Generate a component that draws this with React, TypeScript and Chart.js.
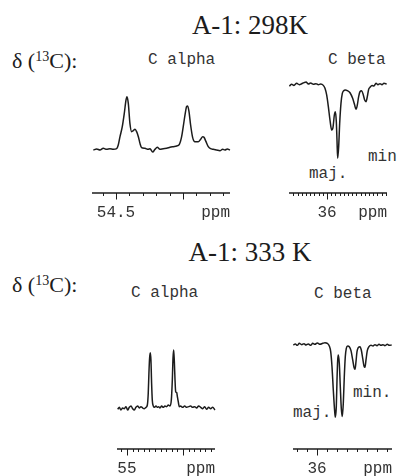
import React, { useEffect, useRef } from "react";
import { Chart, registerables } from "chart.js";

Chart.register(...registerables);

// ---------- 298 K, C alpha ----------
const ppmAlpha298 = [
  54.669, 54.644, 54.619, 54.595, 54.57, 54.545, 54.52, 54.495, 54.483, 54.47,
  54.453, 54.438, 54.425, 54.418, 54.408, 54.396, 54.383, 54.371, 54.358, 54.346,
  54.333, 54.321, 54.309, 54.284, 54.259, 54.246, 54.226, 54.209, 54.192, 54.172,
  54.147, 54.122, 54.097, 54.072, 54.047, 54.027, 54.01, 53.998, 53.983, 53.973,
  53.965, 53.955, 53.943, 53.928, 53.911, 53.886, 53.868, 53.853, 53.843, 53.828,
  53.811, 53.794, 53.774, 53.749, 53.724, 53.704, 53.687, 53.669, 53.649,
];
const intAlpha298 = [
  0, 1.9, 0, 3.1, 1.3, 2.5, 1.3, 2.5, 9.4, 25,
  43.8, 68.8, 93.8, 100, 87.5, 50, 34.4, 36.3, 38.8, 34.4,
  25, 12.5, 4.4, 3.1, 1.3, 2.5, -3.8, 1.3, 5, 1.3,
  2.5, 3.1, 5, 6.3, 7.5, 10.6, 25, 43.8, 68.8, 81.3,
  82.5, 71.9, 46.9, 23.8, 15.6, 15.6, 20, 25, 23.8, 15.6,
  6.3, 2.5, 1.3, 0, -1.3, 1.3, 0, 1.9, 0,
];
const minorAlpha298 = [54.6, 54.4, 54.3, 54.2, 54.1, 53.9, 53.8, 53.7];
const majorAlpha298 = [54.5, 54.0];
const labelAlpha298 = ["54.5", ""];

// ---------- 298 K, C beta ----------
const ppmBeta298 = [
  36.897, 36.841, 36.786, 36.722, 36.659, 36.603, 36.548, 36.5, 36.444, 36.389,
  36.325, 36.262, 36.206, 36.151, 36.087, 36.048, 36.008, 35.968, 35.929, 35.889,
  35.857, 35.825, 35.801, 35.778, 35.762, 35.746, 35.722, 35.698, 35.667, 35.635,
  35.603, 35.563, 35.516, 35.452, 35.389, 35.341, 35.31, 35.278, 35.246, 35.214,
  35.175, 35.135, 35.103, 35.071, 35.04, 35.008, 34.976, 34.929, 34.881, 34.833,
  34.786, 34.738, 34.69, 34.643, 34.579,
];
const intBeta298 = [
  -1.4, 0.9, -0.5, 2.3, 0.5, 1.8, 3.2, 4.1, 1.4, 2.7,
  0.9, 1.8, 0.5, 1.4, -0.5, -4.5, -13.6, -29.5, -47.7, -61.4,
  -57.7, -40.9, -36.4, -50, -75, -100, -84.1, -52.3, -25, -11.4,
  -7.7, -6.8, -7.7, -10.5, -18.2, -27.3, -33.2, -27.3, -15.9, -9.1,
  -7.7, -13.6, -20.5, -22.7, -15.9, -5.9, -3.2, -0.5, -1.4, 2.3,
  0.5, 1.8, 0.5, 2.3, 1.4,
];
const minorBeta298 = [
  34.6, 34.7, 34.8, 34.9, 35.0, 35.1, 35.2, 35.3, 35.4, 35.5, 35.6, 35.7, 35.8,
  35.9, 36.1, 36.2, 36.3, 36.4, 36.5, 36.6, 36.7, 36.8,
];
const majorBeta298 = [36];
const labelBeta298 = ["36"];

// ---------- 333 K, C alpha ----------
const ppmAlpha333 = [
  55.083, 55.068, 55.054, 55.039, 55.024, 55.009, 54.994, 54.979, 54.964, 54.949,
  54.934, 54.92, 54.905, 54.89, 54.875, 54.86, 54.845, 54.83, 54.818, 54.81,
  54.804, 54.798, 54.792, 54.786, 54.78, 54.774, 54.765, 54.753, 54.741, 54.729,
  54.717, 54.705, 54.69, 54.676, 54.661, 54.646, 54.631, 54.616, 54.604, 54.595,
  54.589, 54.583, 54.577, 54.571, 54.565, 54.556, 54.55, 54.542, 54.533, 54.521,
  54.503, 54.485, 54.467, 54.449, 54.431, 54.414, 54.396, 54.378, 54.36, 54.342,
  54.324, 54.306, 54.289, 54.271, 54.253, 54.235, 54.214,
];
const intAlpha333 = [
  -1.7, 1.7, -2.9, 0.6, -0.6, 2.9, -2.9, 1.7, 4, -0.6,
  -2.9, 1.7, 4, 0.6, 2.9, 0.6, -0.6, 1.7, 5.7, 25.7,
  60, 85.7, 95.4, 82.9, 42.9, 14.3, 4, 1.7, 4, 1.7,
  2.9, 0.6, 4, 1.7, 4, 2.9, 5.7, 4, 14.3, 48.6,
  85.7, 100, 80, 48.6, 28.6, 26.9, 20, 11.4, 2.9, 4,
  1.7, 4, 1.7, 2.9, 4, 1.7, 2.9, 0.6, 4, 1.7,
  -0.6, 2.9, -1.7, 1.7, -0.6, 1.7, -2.9,
];
const minorAlpha333 = [
  54.25, 54.3, 54.35, 54.4, 54.45, 54.55, 54.6, 54.65, 54.7, 54.75, 54.8,
  54.85, 54.9, 54.95, 55.05,
];
const majorAlpha333 = [55, 54.5];
const labelAlpha333 = ["55", ""];

// ---------- 333 K, C beta ----------
const ppmBeta333 = [
  36.237, 36.217, 36.197, 36.177, 36.153, 36.13, 36.11, 36.087, 36.063, 36.043,
  36.02, 35.997, 35.97, 35.943, 35.92, 35.897, 35.877, 35.863, 35.85, 35.837,
  35.823, 35.817, 35.807, 35.8, 35.793, 35.787, 35.777, 35.767, 35.757, 35.747,
  35.737, 35.727, 35.717, 35.707, 35.693, 35.677, 35.66, 35.643, 35.63, 35.62,
  35.61, 35.6, 35.587, 35.57, 35.557, 35.543, 35.53, 35.52, 35.51, 35.497,
  35.48, 35.46, 35.44, 35.42, 35.4, 35.38, 35.36, 35.34, 35.32, 35.297,
  35.277, 35.253,
];
const intBeta333 = [
  0, 1.4, -0.5, 2.3, 0.5, 1.8, 0, 1.4, -0.5, 2.3,
  0.9, 2.8, 0.9, 2.3, 3.2, 2.3, -1.4, -9.2, -30, -62.2,
  -92.2, -100, -85.3, -48.4, -20.7, -13.8, -25.3, -57.6, -87.6, -99,
  -80.6, -43.8, -16.1, -4.6, -1.4, -2.3, -7.8, -20.7, -30.9, -33.6,
  -23, -9.2, -3.7, -2.3, -6.9, -18.4, -29, -30.9, -20.7, -7.8,
  -2.3, -0.5, -1.4, 0.5, -0.9, 0.9, -0.5, 0.5, -0.9, 0.9,
  -0.5, 0,
];
const minorBeta333 = [35.3, 35.4, 35.5, 35.6, 35.7, 35.8, 35.9, 36.1, 36.2];
const majorBeta333 = [36];
const labelBeta333 = ["36"];

// ---------- layout ----------
type Panel = {
  ppm: number[];
  inten: number[];
  xMin: number;
  xMax: number;
  yMin: number;
  yMax: number;
  left: number;
  right: number;
  top: number;
  axisY: number;
  minor: number[];
  major: number[];
  majorLabels: string[];
};

const panels: Panel[] = [
  { ppm: ppmAlpha298, inten: intAlpha298, xMin: 53.649, xMax: 54.679, yMin: -80.6, yMax: 105,
    left: 92, right: 230, top: 94, axisY: 193, minor: minorAlpha298, major: majorAlpha298, majorLabels: labelAlpha298 },
  { ppm: ppmBeta298, inten: intBeta298, xMin: 34.571, xMax: 36.905, yMin: -147.3, yMax: 8.2,
    left: 289, right: 387, top: 79, axisY: 193, minor: minorBeta298, major: majorBeta298, majorLabels: labelBeta298 },
  { ppm: ppmAlpha333, inten: intAlpha333, xMin: 54.214, xMax: 55.089, yMin: -69.7, yMax: 105.1,
    left: 117, right: 215, top: 347, axisY: 449, minor: minorAlpha333, major: majorAlpha333, majorLabels: labelAlpha333 },
  { ppm: ppmBeta333, inten: intBeta333, xMin: 35.25, xMax: 36.24, yMin: -143.8, yMax: 6.9,
    left: 293, right: 392, top: 340, axisY: 449, minor: minorBeta333, major: majorBeta333, majorLabels: labelBeta333 },
];

const MONO = '"Liberation Mono", "Courier New", monospace';
const SERIF = '"Liberation Serif", "Times New Roman", serif';
const INK = "#1c1c1c";
const MONO_INK = "#333";

const PAD_L = 4;
const PAD_R = 4;
const PAD_T = 4;
const PAD_B = 30;

function SpectrumPanel({ p }: { p: Panel }) {
  const ref = useRef<HTMLCanvasElement | null>(null);
  const w = p.right - p.left + PAD_L + PAD_R;
  const h = p.axisY - p.top + PAD_T + PAD_B;

  useEffect(() => {
    if (!ref.current) return;
    const axisPlugin = {
      id: "ppmAxis",
      afterDraw(chart: any) {
        const { ctx, chartArea, scales } = chart;
        const xs = scales.x;
        const y0 = chartArea.bottom;
        ctx.save();
        ctx.strokeStyle = INK;
        ctx.lineWidth = 1.3;
        ctx.beginPath();
        ctx.moveTo(chartArea.left, y0);
        ctx.lineTo(chartArea.right, y0);
        ctx.stroke();
        ctx.lineWidth = 1;
        ctx.beginPath();
        for (const v of p.minor) {
          const x = Math.round(xs.getPixelForValue(v)) + 0.5;
          ctx.moveTo(x, y0);
          ctx.lineTo(x, y0 + 3);
        }
        for (const v of p.major) {
          const x = Math.round(xs.getPixelForValue(v)) + 0.5;
          ctx.moveTo(x, y0);
          ctx.lineTo(x, y0 + 6.5);
        }
        ctx.stroke();
        ctx.fillStyle = MONO_INK;
        ctx.font = `16px ${MONO}`;
        ctx.textBaseline = "alphabetic";
        ctx.textAlign = "center";
        p.major.forEach((v, i) => {
          const t = p.majorLabels[i];
          if (t) ctx.fillText(t, xs.getPixelForValue(v), y0 + 24);
        });
        ctx.textAlign = "right";
        ctx.fillText("ppm", chartArea.right, y0 + 24);
        ctx.restore();
      },
    };
    const chart = new Chart(ref.current, {
      type: "line",
      data: {
        datasets: [
          {
            data: p.ppm.map((x, i) => ({ x, y: p.inten[i] })),
            borderColor: INK,
            borderWidth: 1.5,
            pointRadius: 0,
            fill: false,
            cubicInterpolationMode: "monotone",
            clip: false,
          } as any,
        ],
      },
      options: {
        responsive: false,
        maintainAspectRatio: false,
        animation: false,
        events: [],
        layout: { padding: { left: PAD_L, right: PAD_R, top: PAD_T, bottom: PAD_B } },
        plugins: { legend: { display: false }, tooltip: { enabled: false } },
        scales: {
          x: { type: "linear", reverse: true, min: p.xMin, max: p.xMax, display: false },
          y: { type: "linear", min: p.yMin, max: p.yMax, display: false },
        },
      } as any,
      plugins: [axisPlugin],
    });
    return () => chart.destroy();
  }, []);

  return (
    <canvas
      ref={ref}
      width={w}
      height={h}
      style={{ position: "absolute", left: p.left - PAD_L, top: p.top - PAD_T, width: w, height: h }}
    />
  );
}

function Txt({
  x, base, size, font, children, center,
}: {
  x: number; base: number; size: number; font: string; children: React.ReactNode; center?: boolean;
}) {
  const isMono = font === MONO;
  const f = isMono ? 0.7665 : 0.8375;
  const top = base - f * size;
  const style: React.CSSProperties = {
    position: "absolute",
    top,
    fontFamily: font,
    fontSize: size,
    lineHeight: 1,
    color: isMono ? MONO_INK : INK,
    whiteSpace: "nowrap",
  };
  if (center) {
    style.left = x - 150;
    style.width = 300;
    style.textAlign = "center";
  } else {
    style.left = x;
  }
  return <div style={style}>{children}</div>;
}

function Delta({ base }: { base: number }) {
  return (
    <Txt x={12} base={base} size={22} font={SERIF}>
      δ (<span style={{ fontSize: "0.64em", position: "relative", top: "-0.5em" }}>13</span>C):
    </Txt>
  );
}

export default function App() {
  return (
    <div style={{ position: "absolute", left: 0, top: 0, width: 401, height: 476, background: "#fff", overflow: "hidden" }}>
      <Txt x={250} base={35} size={27} font={SERIF} center>A-1: 298K</Txt>
      <Delta base={68} />
      <Txt x={148} base={64} size={16} font={MONO}>C alpha</Txt>
      <Txt x={328} base={64} size={16} font={MONO}>C beta</Txt>
      <Txt x={368} base={161} size={16} font={MONO}>min</Txt>
      <Txt x={309} base={178} size={16} font={MONO}>maj.</Txt>

      <Txt x={250} base={262} size={27} font={SERIF} center>A-1: 333 K</Txt>
      <Delta base={292} />
      <Txt x={131} base={297} size={16} font={MONO}>C alpha</Txt>
      <Txt x={314} base={298} size={16} font={MONO}>C beta</Txt>
      <Txt x={353} base={397} size={16} font={MONO}>min.</Txt>
      <Txt x={293} base={417} size={16} font={MONO}>maj.</Txt>

      {panels.map((p, i) => (
        <SpectrumPanel key={i} p={p} />
      ))}
    </div>
  );
}
